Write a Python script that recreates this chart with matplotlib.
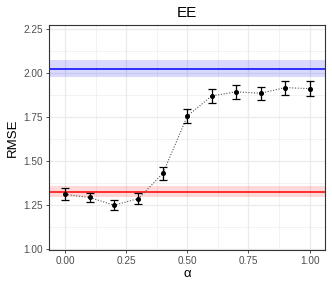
import numpy as np
import matplotlib
matplotlib.use("Agg")
import matplotlib.pyplot as plt

# data
alpha = [0.0, 0.1, 0.2, 0.3, 0.4, 0.5, 0.6, 0.7, 0.8, 0.9, 1.0]
rmse = [1.313, 1.295, 1.251, 1.289, 1.432, 1.757, 1.871, 1.894, 1.886, 1.918, 1.912]
rmse_err = [0.034, 0.028, 0.027, 0.032, 0.037, 0.040, 0.040, 0.040, 0.038, 0.040, 0.041]

blue_level = 2.026
blue_band = 0.048
red_level = 1.328
red_band = 0.030

y_ticks = [1.00, 1.25, 1.50, 1.75, 2.00, 2.25]
x_ticks = [0.00, 0.25, 0.50, 0.75, 1.00]

plt.rcParams['font.family'] = ['Liberation Sans', 'DejaVu Sans']

fig = plt.figure(figsize=(3.32, 2.85), dpi=100)
ax = fig.add_axes([49 / 332, 1 - 250 / 285, 276 / 332, 225 / 285])

# minor/major grid (theme_bw look)
for v in np.arange(-0.125, 1.2, 0.125):
    major = abs(v / 0.25 - round(v / 0.25)) < 1e-6
    ax.axvline(v, color='#EBEBEB', lw=0.9 if major else 0.45, zorder=0)
for v in np.arange(0.875, 2.4, 0.125):
    major = abs(v / 0.25 - round(v / 0.25)) < 1e-6
    ax.axhline(v, color='#EBEBEB', lw=0.9 if major else 0.45, zorder=0)

# reference bands
ax.axhspan(blue_level - blue_band, blue_level + blue_band, color='#0000FF', alpha=0.15, lw=0, zorder=1)
ax.axhline(blue_level, color='#0000FF', lw=1.1, zorder=2)
ax.axhspan(red_level - red_band, red_level + red_band, color='#FF0000', alpha=0.15, lw=0, zorder=1)
ax.axhline(red_level, color='#FF0000', lw=1.1, zorder=2)

ax.plot(alpha, rmse, linestyle=(0, (1, 1.5)), color='#555555', lw=0.8, zorder=3)
ax.errorbar(alpha, rmse, yerr=rmse_err, fmt='o', color='black', ms=2.6,
            ecolor='black', elinewidth=0.9, capsize=3.2, capthick=0.9, zorder=4)

ax.set_xlim(-0.066, 1.063)
ax.set_ylim(0.997, 2.273)
ax.set_xticks(x_ticks)
ax.set_xticklabels([f"{v:.2f}" for v in x_ticks])
ax.set_yticks(y_ticks)
ax.set_yticklabels([f"{v:.2f}" for v in y_ticks])
ax.tick_params(axis='both', labelsize=7.2, colors='#333333', labelcolor='#4D4D4D',
               length=2.5, width=0.6, pad=2)
for s in ax.spines.values():
    s.set_color('#333333')
    s.set_linewidth(0.8)

ax.set_xlabel("α", fontsize=9.5, labelpad=1)
ax.set_ylabel("RMSE", fontsize=9.5, labelpad=3)
ax.set_title("EE", fontsize=11, pad=6)

fig.savefig("out.png", dpi=100)
